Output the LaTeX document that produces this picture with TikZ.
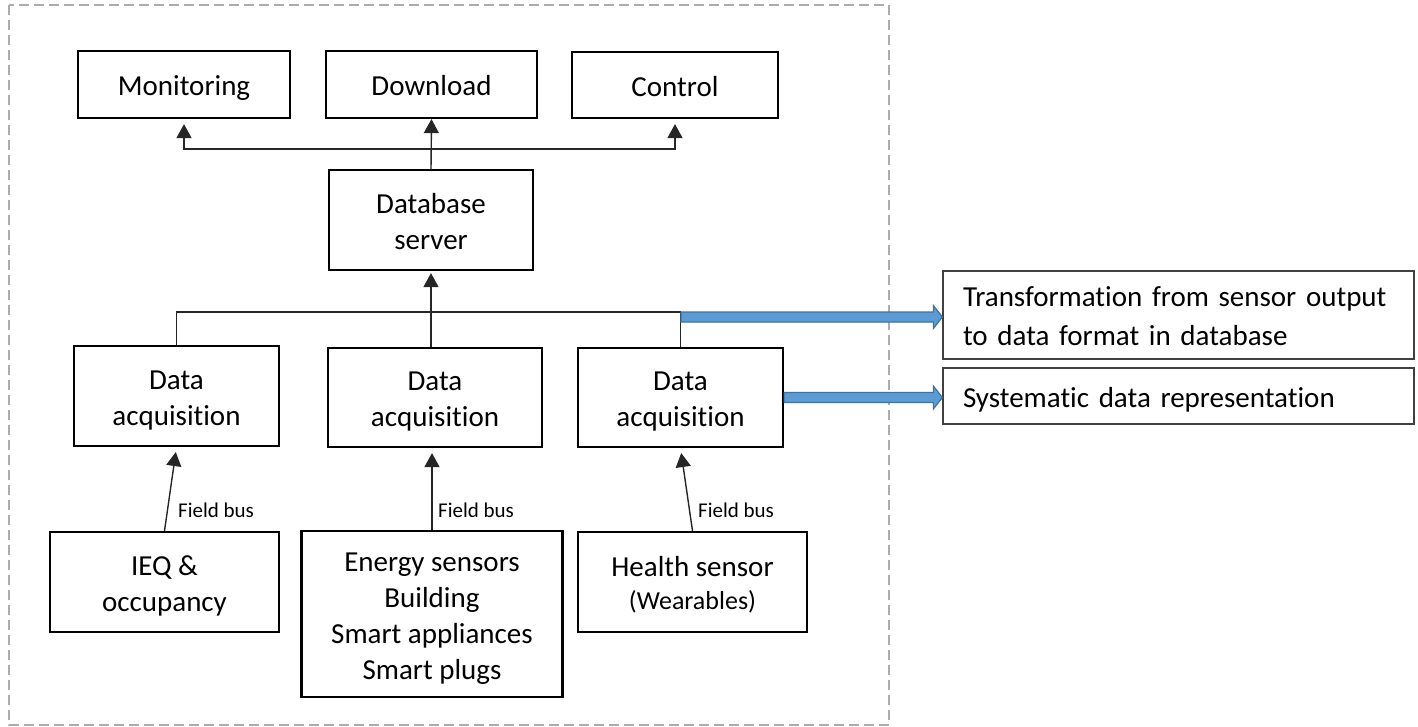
\documentclass[tikz,border=0pt]{standalone}
\usepackage{fontspec}
\setmainfont{Carlito}[Ligatures=NoCommon]
\usetikzlibrary{arrows.meta,calc}
\definecolor{blueF}{HTML}{5B9BD5}
\definecolor{blueD}{HTML}{41719C}
\begin{document}
\begin{tikzpicture}[x=1pt,y=-1pt,
 struts/.style={execute at begin node={\rule{0pt}{#1}}, execute at end node={\rule[-9pt]{0pt}{9pt}}},
 struts/.default=31pt,
 box/.style={draw, line width=2.2pt, align=center, inner sep=0pt, font=\fontsize{29}{36}\selectfont},
 note/.style={draw=black!75, line width=1.3pt, align=left, inner xsep=20pt, inner ysep=0pt, text width=431pt, minimum height=#1, font=\fontsize{29}{39}\selectfont},
 conn/.style={line width=1.4pt, draw=black!85},
 arr/.style={conn, -{Triangle[width=15pt,length=14pt]}},
 lbl/.style={anchor=west, inner sep=0pt, font=\fontsize{21}{25}\selectfont},
 bluearrow/.style={fill=blueF, draw=blueD, line width=1.2pt, to path={let \p1=(\tikztostart), \p2=(\tikztotarget) in (\x1,\y1+5pt) -- (\x2-9pt,\y1+5pt) -- (\x2-9pt,\y1+11.5pt) -- (\x2,\y1) -- (\x2-9pt,\y1-11.5pt) -- (\x2-9pt,\y1-5pt) -- (\x1,\y1-5pt) -- cycle}}
]
\useasboundingbox (0,0) rectangle (1418,726);
\draw[gray!65, line width=2pt, dash pattern=on 10pt off 5pt] (9,5) rectangle (889,725);

\node[box, struts, minimum width=212pt, minimum height=67pt] (mon) at (184,84.5) {Monitoring};
\node[box, struts, minimum width=211pt, minimum height=67pt] (dl) at (431.5,84.5) {Download};
\node[box, struts, minimum width=206pt, minimum height=66pt] (ctl) at (675,85) {Control};
\node[box, struts=67pt, minimum width=204pt, minimum height=100pt] (db) at (431,220) {Database\\server};
\node[box, struts=67pt, minimum width=205pt, minimum height=100pt] (da1) at (176.5,396) {Data\\acquisition};
\node[box, struts=67pt, minimum width=214pt, minimum height=99pt] (da2) at (435,397.5) {Data\\acquisition};
\node[box, struts=67pt, minimum width=205pt, minimum height=99pt] (da3) at (680.5,397.5) {Data\\acquisition};
\node[box, struts=67pt, minimum width=229pt, minimum height=100pt] (ieq) at (164.5,582) {IEQ \&\\occupancy};
\node[box, struts=139pt, minimum width=261pt, minimum height=166pt] (en) at (432,614) {Energy sensors\\Building\\Smart appliances\\Smart plugs};
\node[box, struts=64pt, minimum width=229pt, minimum height=100pt, font=\fontsize{29}{33}\selectfont] (hs) at (692.5,582) {Health sensor\\{\fontsize{26}{33}\selectfont (Wearables)}};

\node[note=88pt, struts] (tr) at (1178.5,315) {Transformation from sensor output\\to data format in database};
\node[note=56pt, struts] (sy) at (1178.5,396) {Systematic data representation};

\coordinate (hub) at (431,149);
\draw[arr] (db.north) -- (dl.south);
\draw[arr, shorten >=5pt] (hub) -| (mon.south);
\draw[arr, shorten >=5pt] (hub) -| (ctl.south);

\coordinate (bus) at (431,312);
\draw[conn] (da1.north) |- (bus);
\draw[conn] (da3.north) |- (bus);
\draw[conn] (da2.north -| bus) -- (bus);
\draw[arr, shorten >=2pt] (bus) -- (db.south);

\draw[arr, shorten >=5pt] (ieq.north) -- (da1.south);
\draw[arr, shorten >=5pt] (en.north) -- (en.north |- da2.south);
\draw[arr, shorten >=5pt] (hs.north) -- (da3.south);
\node[lbl] (fb1) at (178,510) {Field bus};
\node[lbl] (fb2) at (438,510) {Field bus};
\node[lbl] (fb3) at (698,510) {Field bus};

\coordinate (b1) at (681,317);
\path[bluearrow] (b1) to (b1 -| tr.west);
\path[bluearrow] (da3.east) to (da3.east -| sy.west);
\end{tikzpicture}
\end{document}
